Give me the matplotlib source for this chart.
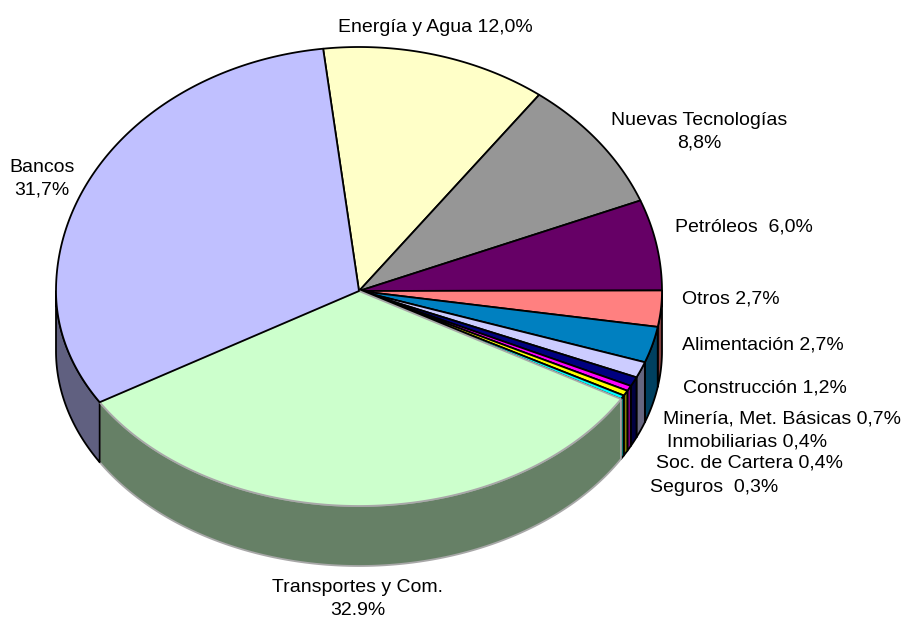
import numpy as np
import matplotlib
matplotlib.use("Agg")
import matplotlib.pyplot as plt
from matplotlib.patches import Polygon

plt.rcParams['font.family'] = ['Liberation Sans', 'DejaVu Sans']

# slices, clockwise from the top
sectors = ["Energía y Agua", "Nuevas Tecnologías", "Petróleos", "Otros", "Alimentación",
           "Construcción", "Minería, Met. Básicas", "Inmobiliarias", "Soc. de Cartera",
           "Seguros", "Transportes y Com.", "Bancos"]
shares = [12.0, 8.8, 6.0, 2.7, 2.7, 1.2, 0.7, 0.4, 0.4, 0.3, 32.9, 31.7]
share_text = ["12,0%", "8,8%", "6,0%", "2,7%", "2,7%", "1,2%", "0,7%", "0,4%", "0,4%", "0,3%",
              "32.9%", "31,7%"]
colors = ["#FFFFC8", "#969696", "#660066", "#FF8080", "#0080C0", "#CCCCFF", "#000080",
          "#FF00FF", "#FFFF00", "#00FFFF", "#CCFFCC", "#C0C0FF"]
edge_colors = ["black"] * 10 + ["#A8A8A8", "black"]

# label text and placement (x, y, ha)
label_text = ["Energía y Agua 12,0%", "Nuevas Tecnologías\n8,8%", "Petróleos  6,0%", "Otros 2,7%",
              "Alimentación 2,7%", "Construcción 1,2%", "Minería, Met. Básicas 0,7%",
              "Inmobiliarias 0,4%", "Soc. de Cartera 0,4%", "Seguros  0,3%",
              "Transportes y Com.\n32.9%", "Bancos\n31,7%"]
label_pos = [(435, 27, "center"), (699, 132, "center"), (675, 227, "left"), (682, 299, "left"),
             (682, 345, "left"), (683, 388, "left"), (663, 419, "left"), (667, 442, "left"),
             (656, 463, "left"), (650, 488, "left"), (358, 599, "center"), (42, 179, "center")]

# pie geometry (pixels)
cx, cy = 359, 291
rx, ry_up, ry_dn = 303, 244, 215
depth = 60
start = 96.8


def rim(theta_deg, dz=0):
    t = np.radians(theta_deg)
    s = np.sin(t)
    x = cx + rx * np.cos(t)
    y = cy - np.where(s > 0, ry_up, ry_dn) * s + dz
    return x, y


fig = plt.figure(figsize=(9.04, 6.21), dpi=100)
ax = fig.add_axes([0, 0, 1, 1])
ax.set_xlim(0, 904)
ax.set_ylim(621, 0)
ax.axis("off")

vals = np.array(shares)
ends = start - np.cumsum(vals) * 360 / vals.sum()
begins = np.concatenate([[start], ends[:-1]])


def darker(c):
    rgb = np.array(matplotlib.colors.to_rgb(c))
    return tuple(rgb * 0.5)


# sides (front half only)
for a0, a1, col, ec in zip(begins, ends, colors, edge_colors):
    for k in range(-2, 2):
        lo = max(a1, 180 + 360 * k)
        hi = min(a0, 360 + 360 * k)
        if hi - lo <= 0:
            continue
        th = np.linspace(hi, lo, max(3, int((hi - lo) * 2)))
        x, y = rim(th)
        xb, yb = rim(th[::-1], depth)
        poly = np.column_stack([np.concatenate([x, xb]), np.concatenate([y, yb])])
        ax.add_patch(Polygon(poly, closed=True, facecolor=darker(col), edgecolor=ec,
                             linewidth=1.3, joinstyle="round"))

# tops
for a0, a1, col, ec in zip(begins, ends, colors, edge_colors):
    th = np.linspace(a0, a1, max(3, int((a0 - a1) * 2)))
    x, y = rim(th)
    poly = np.column_stack([np.concatenate([[cx], x]), np.concatenate([[cy], y])])
    ax.add_patch(Polygon(poly, closed=True, facecolor=col, edgecolor=ec,
                         linewidth=1.3, joinstyle="round"))

for txt, (x, y, ha) in zip(label_text, label_pos):
    ax.text(x, y, txt, ha=ha, va="center", fontsize=14.0, linespacing=1.45)

fig.savefig("out.png", dpi=100)
